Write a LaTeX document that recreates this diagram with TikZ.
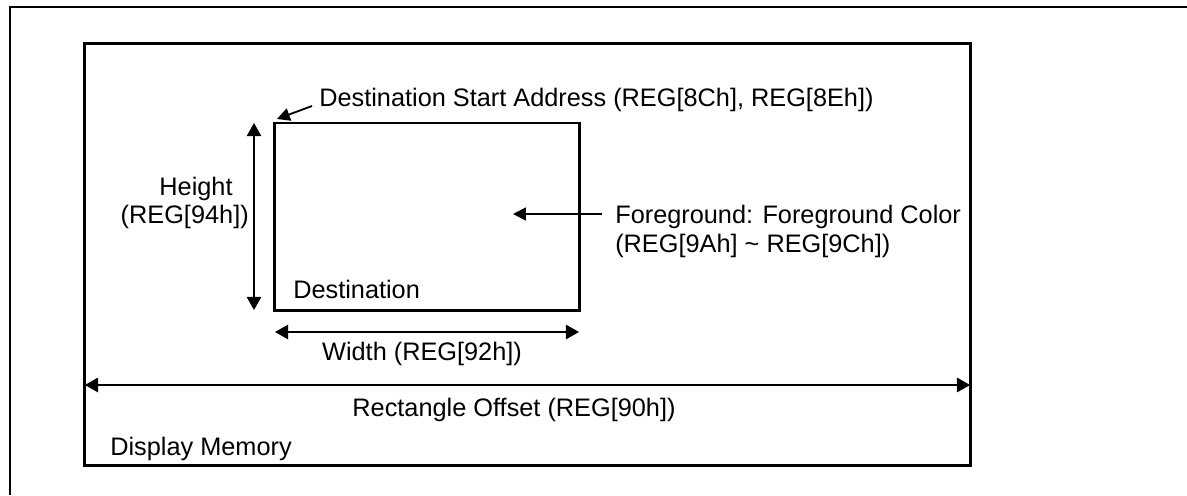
\documentclass[tikz,border=0pt]{standalone}
\usepackage{fontspec}
\setmainfont{Liberation Sans}
\usetikzlibrary{positioning,arrows.meta}

\begin{document}
\begin{tikzpicture}[x=0.025cm, y=-0.025cm]
  \tikzset{
    lbl/.style={font=\fontsize{18}{21}\selectfont, inner sep=0pt},
    area/.style={draw=black, line width=2.1pt, inner sep=0pt, outer sep=0pt},
    dim/.style={{Triangle[length=0.33cm,width=0.36cm]}-{Triangle[length=0.33cm,width=0.36cm]},
                line width=1.3pt},
    ptr/.style={-{Triangle[length=0.32cm,width=0.32cm]}, line width=1.3pt}
  }
  \useasboundingbox (0,0) rectangle (1187,495);

  % page edge
  \draw[line width=1.1pt] (10,495) -- (10,7) -- (1187,7);

  % display memory and destination areas
  \node[area, minimum width=22.125cm, minimum height=10.525cm] (mem) at (527.5,254.5) {};
  \node[area, minimum width=7.6cm, minimum height=4.675cm] (dst) at (427,216.5) {};

  % labels
  \node[lbl, anchor=base west] (start) at (319,106)
    {Destination Start Address (REG[8Ch], REG[8Eh])};
  \node[lbl, anchor=base] (hgt) at (196,195) {Height};
  \node[lbl, anchor=base east] (hgtreg) at (249,223) {(REG[94h])};
  \node[lbl, anchor=base west] (fg) at (615,223) {Foreground: Foreground Color};
  \node[lbl, anchor=base west] (fgreg) at (615,252) {(REG[9Ah] \textasciitilde{} REG[9Ch])};
  \node[lbl, anchor=base west] (dstlbl) at (293,298) {Destination};
  \node[lbl, anchor=base] (wid) at (422,360) {Width (REG[92h])};
  \node[lbl, anchor=base] (off) at (514,416) {Rectangle Offset (REG[90h])};
  \node[lbl, anchor=base west] (memlbl) at (110,455) {Display Memory};

  % arrows
  \coordinate (hx) at (254,0);
  \coordinate (wy) at (0,332);
  \coordinate (oy) at (0,385);
  \coordinate (sa-tail) at (312,106);
  \coordinate (sa-tip) at (277,119);
  \coordinate (fg-tail) at (602,214);
  \coordinate (fg-tip) at (513,214);

  \draw[dim] (dst.north -| hx) -- (dst.south -| hx);
  \draw[dim] (dst.west |- wy) -- (dst.east |- wy);
  \draw[dim] (mem.west |- oy) -- (mem.east |- oy);
  \draw[ptr] (sa-tail) -- (sa-tip);
  \draw[ptr] (fg-tail) -- (fg-tip);
\end{tikzpicture}
\end{document}
